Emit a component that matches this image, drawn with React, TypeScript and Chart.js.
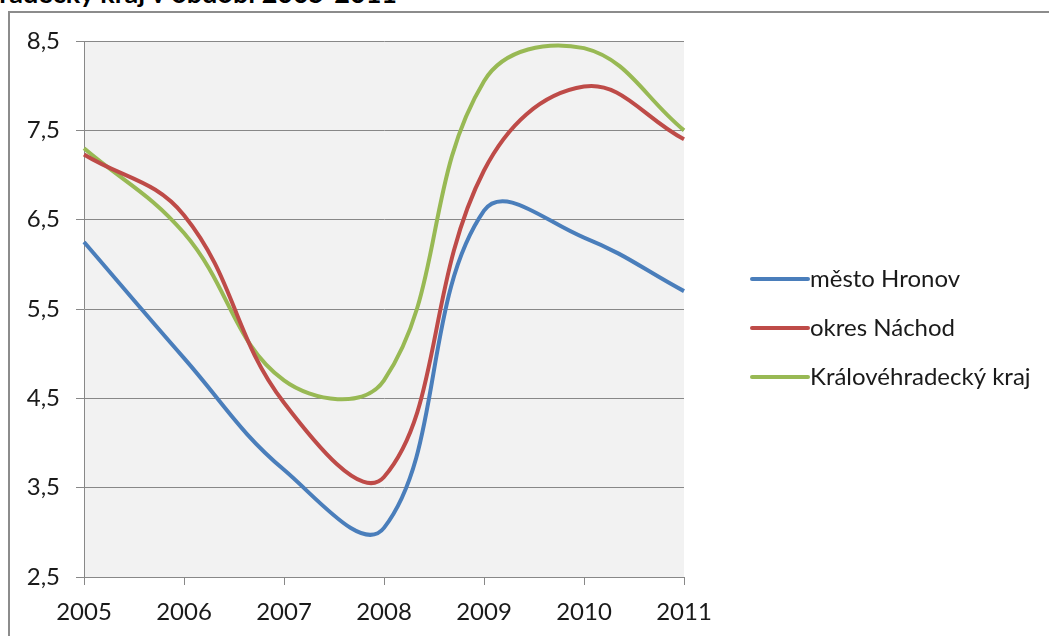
import React, { useEffect, useRef } from "react";
import { Chart, registerables } from "chart.js";

Chart.register(...registerables);

const years = ["2005", "2006", "2007", "2008", "2009", "2010", "2011"];
const hronov = [6.25, 4.95, 3.7, 3.05, 6.6, 6.3, 5.7];
const nachod = [7.23, 6.55, 4.45, 3.62, 7.05, 7.99, 7.4];
const kraj = [7.3, 6.35, 4.7, 4.7, 8.05, 8.42, 7.5];
const seriesNames = ["město Hronov", "okres Náchod", "Královéhradecký kraj"];
const seriesColors = ["#4a7ebb", "#be4b48", "#98b954"];
const yTicks = [2.5, 3.5, 4.5, 5.5, 6.5, 7.5, 8.5];
const titleText = "Královéhradecký kraj v období 2005-2011";

const FONT = "Lato, 'Open Sans', sans-serif";
const GRID = "#888888";

const plotBg = {
  id: "plotBg",
  beforeDraw(chart: any) {
    const { ctx, chartArea } = chart;
    ctx.save();
    ctx.fillStyle = "#f2f2f2";
    ctx.fillRect(chartArea.left, chartArea.top, chartArea.right - chartArea.left, chartArea.bottom - chartArea.top);
    ctx.restore();
  },
};

const sideLegend = {
  id: "sideLegend",
  afterDraw(chart: any) {
    const { ctx, chartArea } = chart;
    const x0 = chartArea.right + 68;
    const x1 = x0 + 56;
    const yStart = 279;
    const gap = 49;
    ctx.save();
    chart.data.datasets.forEach((ds: any, i: number) => {
      const y = yStart + i * gap;
      ctx.strokeStyle = ds.borderColor;
      ctx.lineWidth = 4;
      ctx.lineCap = "round";
      ctx.beginPath();
      ctx.moveTo(x0, y);
      ctx.lineTo(x1, y);
      ctx.stroke();
      ctx.fillStyle = "#1a1a1a";
      ctx.font = `24px ${FONT}`;
      ctx.textBaseline = "middle";
      ctx.textAlign = "left";
      ctx.fillText(ds.label, x1 + 2, y);
    });
    ctx.restore();
  },
};

export default function App() {
  const ref = useRef<HTMLCanvasElement>(null);

  useEffect(() => {
    if (!ref.current) return;
    const chart = new Chart(ref.current, {
      type: "line",
      data: {
        labels: years,
        datasets: [hronov, nachod, kraj].map((d, i) => ({
          label: seriesNames[i],
          data: d,
          borderColor: seriesColors[i],
          backgroundColor: seriesColors[i],
          borderWidth: 4,
          pointRadius: 0,
          tension: 0.4,
          fill: false,
        })),
      },
      options: {
        animation: false,
        responsive: false,
        devicePixelRatio: 1,
        layout: { padding: { left: 0, top: 41, right: 365, bottom: 0 } },
        plugins: { legend: { display: false }, tooltip: { enabled: false }, title: { display: false } },
        scales: {
          x: {
            type: "category",
            offset: false,
            grid: { display: true, drawOnChartArea: false, color: GRID, tickLength: 8 },
            border: { display: true, color: GRID },
            ticks: { color: "#1a1a1a", font: { family: FONT, size: 24 }, padding: 13, maxRotation: 0, autoSkip: false },
            afterFit: (s: any) => { s.height = 59; },
          },
          y: {
            type: "linear",
            min: 2.5,
            max: 8.5,
            afterBuildTicks: (s: any) => { s.ticks = yTicks.map((v) => ({ value: v })); },
            grid: { color: GRID, tickLength: 8 },
            border: { display: true, color: GRID },
            ticks: {
              color: "#1a1a1a",
              font: { family: FONT, size: 24 },
              padding: 16,
              callback: (v: any) => Number(v).toFixed(1).replace(".", ","),
            },
            afterFit: (s: any) => { s.width = 84; },
          },
        },
      },
      plugins: [plotBg, sideLegend],
    });
    return () => chart.destroy();
  }, []);

  return (
    <div style={{ position: "fixed", left: 0, top: 0, width: 1049, height: 636, overflow: "hidden", background: "#fff" }}>
      <span
        style={{
          position: "absolute",
          right: 1049 - 397,
          top: -19,
          width: "max-content",
          whiteSpace: "nowrap",
          font: `bold 27px ${FONT}`,
          lineHeight: "24px",
          color: "#000",
        }}
      >
        {titleText}
      </span>
      <div
        style={{
          position: "absolute",
          left: 8,
          top: 11,
          width: 1100,
          height: 700,
          borderLeft: "2px solid #8c8c8c",
          borderTop: "2px solid #8c8c8c",
        }}
      />
      <canvas ref={ref} width={1049} height={636} style={{ position: "absolute", left: 0, top: 0 }} />
    </div>
  );
}
